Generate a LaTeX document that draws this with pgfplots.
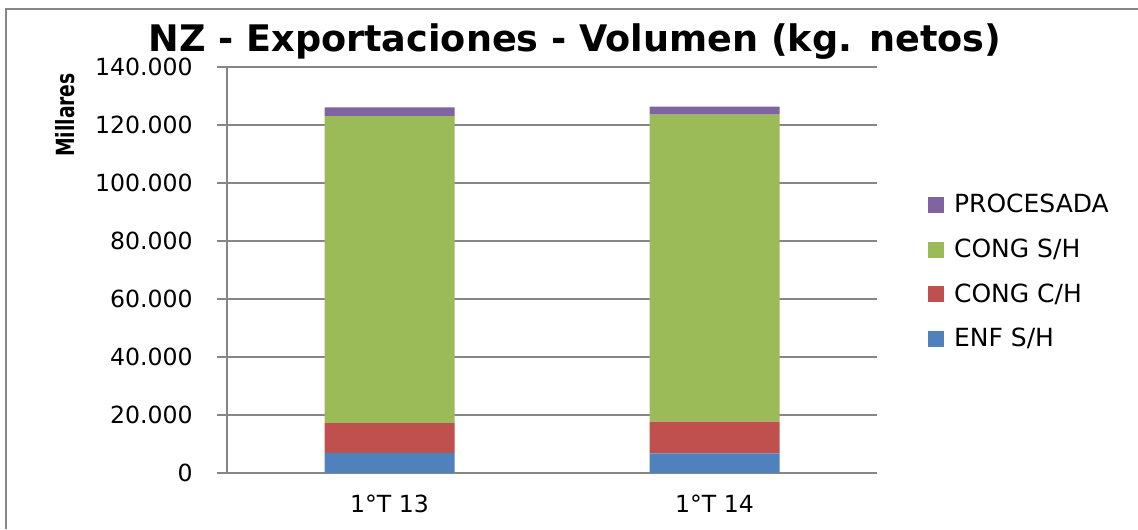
\documentclass[border=0pt]{standalone}
\usepackage{fontspec}
\setmainfont{DejaVu Sans}
\usepackage{pgfplots}
\pgfplotsset{compat=1.18}

\definecolor{enf}{HTML}{4F81BD}
\definecolor{conch}{HTML}{C0504D}
\definecolor{consh}{HTML}{9BBB59}
\definecolor{proc}{HTML}{8064A2}
\definecolor{axgray}{HTML}{868686}

\begin{document}
\begin{tikzpicture}
\path[use as bounding box] (0,0) rectangle (569pt,264.5pt);
% marco exterior (solo arriba e izquierda visibles)
\draw[axgray, line width=1.1pt] (3pt,0) -- (3pt,260pt) -- (569pt,260pt);

\node[anchor=base, font=\fontsize{18.3}{22}\selectfont\bfseries] at (287.5pt,238.5pt)
  {NZ - Exportaciones - Volumen (kg. netos)};
\node[rotate=90, font=\fontsize{12.5}{15}\selectfont\bfseries] at (32.5pt,207pt)
  {\scalebox{0.75}[1]{Millares}};

\begin{axis}[
    at={(113.5pt,28pt)}, anchor=south west,
    scale only axis,
    width=325pt, height=203pt,
    ybar stacked,
    bar width=65pt,
    xmin=-0.5, xmax=1.5,
    ymin=0, ymax=140000,
    ytick={0,20000,...,140000},
    xtick={0,1},
    xticklabels={1°T 13, 1°T 14},
    major x tick style={draw=none},
    extra x ticks={-0.5,0.5,1.5},
    extra x tick labels={},
    extra x tick style={major tick length=4pt, tick align=outside, grid=none,
        tick style={axgray, line width=0.8pt}},
    scaled y ticks=false,
    /pgf/number format/.cd, fixed, 1000 sep={.}, assume math mode=true,
    /pgfplots/.cd,
    ymajorgrids,
    grid style={axgray, line width=0.8pt},
    axis x line*=bottom,
    axis y line*=left,
    axis line style={axgray, line width=0.8pt},
    ytick style={axgray, line width=0.8pt},
    tick align=outside,
    major tick length=5pt,
    tick label style={font=\fontsize{11.8}{14}\selectfont, text=black},
    yticklabel style={inner sep=0pt, xshift=-12pt},
    xticklabel style={inner sep=0pt, anchor=north, yshift=-6pt},
    reverse legend,
    legend style={at={(1.078,0.697)}, anchor=north west, draw=none, fill=none,
        font=\fontsize{12.5}{15}\selectfont, row sep=7.5pt, inner sep=0pt,
        cells={anchor=west},
        /tikz/every odd column/.append style={column sep=3pt}},
    legend image code/.code={\fill[#1] (0pt,-4pt) rectangle (8pt,4pt);},
]
\addplot[fill=enf, draw=none] coordinates {(0,6900) (1,6800)};
\addplot[fill=conch, draw=none] coordinates {(0,10300) (1,10900)};
\addplot[fill=consh, draw=none] coordinates {(0,105900) (1,105900)};
\addplot[fill=proc, draw=none] coordinates {(0,3000) (1,2700)};
\legend{ENF S/H, CONG C/H, CONG S/H, PROCESADA}
\end{axis}
\end{tikzpicture}
\end{document}
